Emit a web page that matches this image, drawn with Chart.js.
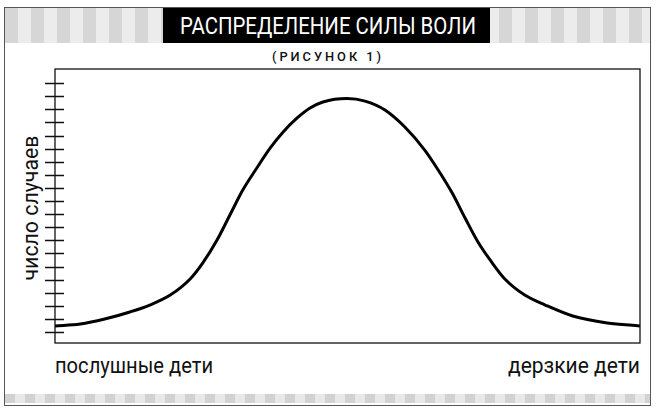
<!DOCTYPE html>
<html lang="ru">
<head>
    <meta charset="UTF-8">
    <title>Распределение силы воли</title>
    <script src="https://cdn.jsdelivr.net/npm/chart.js"></script>
    <style>
        body {
            margin: 0;
            width: 664px;
            height: 411px;
            background: #fff;
            position: relative;
            overflow: hidden;
            font-family: Roboto, "Liberation Sans", Arial, sans-serif;
            color: #111;
        }
        .frame {
            position: absolute;
            left: 4px;
            top: 7px;
            width: 645px;
            height: 397px;
            border: 1px solid #555;
        }
        .banner {
            position: absolute;
            left: 5px;
            top: 8px;
            width: 645px;
            height: 35px;
            background: repeating-linear-gradient(90deg, #d6d6d6 0 13px, #ececec 13px 26px);
        }
        .banner .box {
            position: absolute;
            left: 158px;
            top: 0;
            width: 327px;
            height: 35px;
            background: #000;
        }
        .fit {
            position: absolute;
            white-space: nowrap;
            transform-origin: 0 50%;
        }
        .title {
            color: #fff;
            font-size: 24px;
            line-height: 36px;
            top: 8px;
        }
        .bottom-band {
            position: absolute;
            left: 5px;
            top: 394px;
            width: 645px;
            height: 9px;
            background: repeating-linear-gradient(90deg, #d2d2d2 0 10px, #e8e8e8 10px 20px);
        }
        .subtitle {
            top: 49px;
            font-size: 13px;
            font-weight: 500;
            letter-spacing: 3px;
            line-height: 16px;
        }
        .ylabel {
            position: absolute;
            left: 30px;
            top: 208px;
            white-space: nowrap;
            font-size: 22px;
        }
        .xlabel {
            top: 352px;
            font-size: 22px;
            line-height: 28px;
        }
        canvas {
            position: absolute;
            left: 0;
            top: 0;
        }
    </style>
</head>
<body>
    <div class="frame"></div>
    <div class="banner"><div class="box"></div></div>
    <div class="bottom-band"></div>
    <div class="fit title" data-left="180" data-width="296">РАСПРЕДЕЛЕНИЕ СИЛЫ ВОЛИ</div>
    <div class="fit subtitle" data-left="272" data-width="112">(РИСУНОК 1)</div>
    <div class="ylabel" id="ylabel">число случаев</div>
    <div class="fit xlabel" data-left="55" data-width="158">послушные дети</div>
    <div class="fit xlabel" data-left="508" data-width="132">дерзкие дети</div>
    <canvas id="chart" width="664" height="411"></canvas>
    <script>
        // position along the obedient -> defiant scale (0..100)
        const willpower = [0, 4.3, 8.5, 12.8, 16.2, 19.7, 23.1, 25.3, 27.7, 29.9, 32.1, 34.5, 36.8, 39.0, 41.4,
            43.6, 45.8, 49.9, 53.0, 56.4, 59.8, 63.2, 65.5, 67.9, 70.1, 72.3, 74.7, 76.9, 80.3,
            83.8, 88.5, 94.4, 100];
        // number of cases, in tick units
        const cases = [0.46, 0.61, 0.99, 1.53, 2.06, 2.82, 4.05, 5.3, 7.02, 8.93, 10.84, 12.52, 14.05, 15.27, 16.34,
            17.10, 17.56, 17.82, 17.63, 16.95, 15.65, 13.89, 12.37, 10.61, 8.70, 6.87, 5.3, 4.05, 2.82,
            2.06, 1.22, 0.69, 0.46];
        const yTicks = [0, 1, 2, 3, 4, 5, 6, 7, 8, 9, 10, 11, 12, 13, 14, 15, 16, 17, 18, 19];

        // squeeze labels to the widths they have in the print
        document.querySelectorAll(".fit").forEach(el => {
            const w = el.getBoundingClientRect().width;
            el.style.left = el.dataset.left + "px";
            el.style.transform = "scaleX(" + (el.dataset.width / w) + ")";
        });
        const yl = document.getElementById("ylabel");
        const ylw = yl.getBoundingClientRect().width;
        yl.style.transform = "translate(-50%, -50%) rotate(-90deg) scaleX(" + (145 / ylw) + ")";

        // box around the plot and cross ticks on the left edge
        const frameAndTicks = {
            id: "frameAndTicks",
            afterDraw(chart) {
                const ctx = chart.ctx;
                const area = chart.chartArea;
                const y = chart.scales.y;
                ctx.save();
                ctx.strokeStyle = "#111";
                ctx.lineWidth = 1.3;
                ctx.strokeRect(area.left, area.top, area.right - area.left, area.bottom - area.top);
                ctx.beginPath();
                yTicks.forEach(v => {
                    const py = Math.round(y.getPixelForValue(v)) + 0.5;
                    ctx.moveTo(area.left - 10, py);
                    ctx.lineTo(area.left + 9, py);
                });
                ctx.stroke();
                ctx.restore();
            }
        };

        new Chart(document.getElementById("chart"), {
            type: "scatter",
            data: {
                datasets: [{
                    data: willpower.map((x, i) => ({ x: x, y: cases[i] })),
                    showLine: true,
                    borderColor: "#000",
                    borderWidth: 3,
                    pointRadius: 0,
                    cubicInterpolationMode: "monotone"
                }]
            },
            options: {
                responsive: false,
                animation: false,
                layout: { padding: { left: 55, right: 24, top: 69, bottom: 68 } },
                plugins: {
                    legend: { display: false },
                    tooltip: { enabled: false }
                },
                scales: {
                    x: { display: false, min: 0, max: 100 },
                    y: { display: false, min: -0.84, max: 20.08 }
                }
            },
            plugins: [frameAndTicks]
        });
    </script>
</body>
</html>
